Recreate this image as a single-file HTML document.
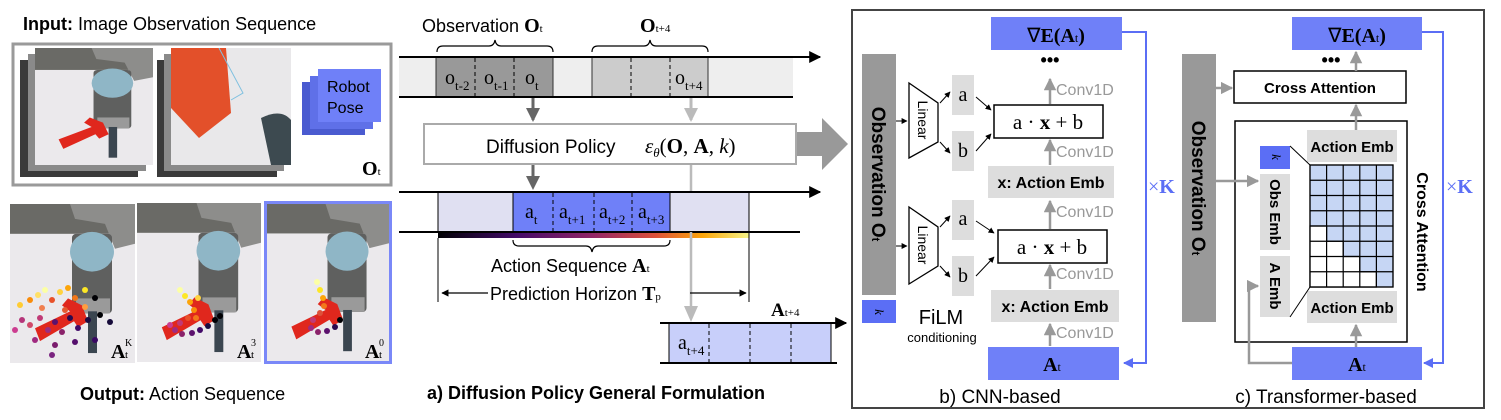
<!DOCTYPE html>
<html><head><meta charset="utf-8"><style>
html,body{margin:0;padding:0;background:#fff;}
svg{display:block;}
.s{font-family:"Liberation Sans",sans-serif;}
.r{font-family:"Liberation Serif",serif;}
</style></head><body>
<svg width="1501" height="420" viewBox="0 0 1501 420" xmlns="http://www.w3.org/2000/svg">
<defs>
<marker id="ab" viewBox="0 0 10 10" refX="9" refY="5" markerWidth="6" markerHeight="6" orient="auto"><path d="M0,0L10,5L0,10z" fill="#000"/></marker>
<marker id="ag" viewBox="0 0 10 10" refX="9" refY="5" markerWidth="5" markerHeight="5" orient="auto"><path d="M0,0L10,5L0,10z" fill="#999"/></marker>
<marker id="abl" viewBox="0 0 10 10" refX="9" refY="5" markerWidth="5" markerHeight="5" orient="auto"><path d="M0,0L10,5L0,10z" fill="#5b6ef5"/></marker>
<linearGradient id="inf" x1="0" x2="1"><stop offset="0" stop-color="#000004"/><stop offset="0.25" stop-color="#420a68"/><stop offset="0.5" stop-color="#932667"/><stop offset="0.7" stop-color="#dd513a"/><stop offset="0.85" stop-color="#fca50a"/><stop offset="1" stop-color="#f6f58a"/></linearGradient>
<symbol id="scene" viewBox="0 0 125 160" preserveAspectRatio="none">
<rect width="125" height="160" fill="#ebe9ec"/>
<rect width="125" height="30" fill="#6a6a66"/>
<path d="M60,0 L125,0 L125,40 L105,45 L95,20 L65,15z" fill="#8d8d8b"/>
<rect x="62" y="30" width="40" height="80" rx="4" fill="#5f605f"/>
<ellipse cx="82" cy="48" rx="22" ry="20" fill="#8fb6c6"/>
<rect x="66" y="95" width="34" height="15" fill="#9a9a9a"/>
<rect x="78" y="108" width="9" height="42" fill="#3b4650"/>
<path d="M25,125 L60,108 L52,102 L58,95 L72,102 L78,118 L68,124 L64,118 L30,138z" fill="#e0271d"/>
</symbol>
<symbol id="push" viewBox="0 0 120 117" preserveAspectRatio="none">
<rect width="120" height="117" fill="#e9e8ea"/>
<path d="M0,0 L55,0 L60,65 L28,90 L0,60z" fill="#e3502a"/>
<path d="M48,0 L72,45 L60,52" fill="none" stroke="#7fc0e0" stroke-width="1"/>
<path d="M90,70 Q110,60 120,72 L120,117 L100,117z" fill="#3d4a50"/>
</symbol>
</defs>

<!-- LEFT -->
<text x="23" y="30" class="s" font-size="18"><tspan font-weight="bold">Input:</tspan> Image Observation Sequence</text>
<rect x="13" y="44" width="378" height="141" fill="#fff" stroke="#9a9a9a" stroke-width="3"/>
<rect x="20" y="60" width="118" height="117" fill="#3a3a3a"/>
<rect x="28" y="54" width="118" height="117" fill="#8a8a8a"/>
<use href="#scene" x="35" y="48" width="118" height="117"/>
<rect x="157" y="60" width="120" height="117" fill="#3a3a3a"/>
<rect x="164" y="54" width="120" height="117" fill="#8a8a8a"/>
<use href="#push" x="171" y="48" width="120" height="117"/>
<rect x="302" y="82" width="63" height="53" fill="#4a5bd0"/>
<rect x="310" y="76" width="63" height="53" fill="#5f70e8"/>
<rect x="318" y="69" width="63" height="53" fill="#6f80f8"/>
<text x="327" y="92" class="s" font-size="16" font-weight="500">Robot</text>
<text x="327" y="113" class="s" font-size="16">Pose</text>
<text x="362" y="175" class="r" font-size="20" font-weight="bold">O<tspan font-size="11" font-weight="normal">t</tspan></text>

<use href="#scene" x="10" y="204" width="125" height="159"/>
<use href="#scene" x="137" y="203" width="124" height="159"/>
<rect x="264" y="201" width="128" height="163" fill="#7a88f8"/>
<use href="#scene" x="267" y="204" width="122" height="157"/>
<g>
<circle cx="20" cy="305" r="3" fill="#ffcc33"/><circle cx="30" cy="300" r="3" fill="#f98c0a"/><circle cx="38" cy="295" r="3" fill="#ffe066"/><circle cx="45" cy="290" r="3" fill="#fcffa4"/><circle cx="52" cy="300" r="3" fill="#e8512a"/><circle cx="60" cy="292" r="3" fill="#ffd23f"/><circle cx="68" cy="288" r="3" fill="#fca50a"/><circle cx="75" cy="298" r="3" fill="#f3771a"/><circle cx="85" cy="290" r="3" fill="#fde725"/><circle cx="95" cy="298" r="3" fill="#000004"/><circle cx="22" cy="320" r="3" fill="#b5367a"/><circle cx="30" cy="325" r="3" fill="#d14a6a"/><circle cx="40" cy="318" r="3" fill="#c03a76"/><circle cx="48" cy="330" r="3" fill="#9c2e7f"/><circle cx="55" cy="322" r="3" fill="#5c126e"/><circle cx="62" cy="332" r="3" fill="#8a226a"/><circle cx="70" cy="318" r="3" fill="#2a0a4e"/><circle cx="78" cy="328" r="3" fill="#420a68"/><circle cx="88" cy="320" r="3" fill="#1b0c41"/><circle cx="100" cy="315" r="3" fill="#000004"/><circle cx="110" cy="322" r="3" fill="#160b39"/><circle cx="35" cy="340" r="3" fill="#a02a80"/><circle cx="55" cy="345" r="3" fill="#7a1c6d"/><circle cx="75" cy="342" r="3" fill="#550f6d"/><circle cx="95" cy="340" r="3" fill="#3a0963"/><circle cx="65" cy="310" r="3" fill="#e45a31"/><circle cx="42" cy="308" r="3" fill="#f07f4f"/><circle cx="15" cy="330" r="3" fill="#cc3d90"/><circle cx="52" cy="355" r="3" fill="#7a2480"/><circle cx="85" cy="307" r="3" fill="#ff9d3f"/>
<circle cx="180" cy="290" r="3" fill="#fcffa4"/><circle cx="185" cy="296" r="3" fill="#fde725"/><circle cx="190" cy="302" r="3" fill="#fca50a"/><circle cx="194" cy="310" r="3" fill="#f98c0a"/><circle cx="188" cy="318" r="3" fill="#e8512a"/><circle cx="180" cy="323" r="3" fill="#c03a76"/><circle cx="175" cy="330" r="3" fill="#a02a80"/><circle cx="182" cy="334" r="3" fill="#8a226a"/><circle cx="192" cy="333" r="3" fill="#5c126e"/><circle cx="200" cy="330" r="3" fill="#420a68"/><circle cx="208" cy="326" r="3" fill="#1b0c41"/><circle cx="215" cy="320" r="3" fill="#000004"/><circle cx="198" cy="298" r="3" fill="#ffd23f"/><circle cx="170" cy="325" r="3" fill="#cc3d90"/><circle cx="196" cy="318" r="3" fill="#f3771a"/><circle cx="220" cy="316" r="3" fill="#000004"/>
<circle cx="317" cy="282" r="3" fill="#fcffa4"/><circle cx="320" cy="290" r="3" fill="#fde725"/><circle cx="323" cy="298" r="3" fill="#fca50a"/><circle cx="324" cy="306" r="3" fill="#f3771a"/><circle cx="320" cy="313" r="3" fill="#dd513a"/><circle cx="313" cy="320" r="3" fill="#c03a76"/><circle cx="311" cy="328" r="3" fill="#a02a80"/><circle cx="318" cy="332" r="3" fill="#8a226a"/><circle cx="327" cy="331" r="3" fill="#5c126e"/><circle cx="335" cy="327" r="3" fill="#2a0a4e"/><circle cx="340" cy="320" r="3" fill="#000004"/>
</g>
<text x="111" y="358" class="r" font-size="20" font-weight="bold">A</text><text x="125" y="358" class="r" font-size="11">t</text><text x="125" y="346" class="r" font-size="10">K</text>
<text x="237" y="358" class="r" font-size="20" font-weight="bold">A</text><text x="251" y="358" class="r" font-size="11">t</text><text x="251" y="346" class="r" font-size="10">3</text>
<text x="365" y="358" class="r" font-size="20" font-weight="bold">A</text><text x="379" y="358" class="r" font-size="11">t</text><text x="379" y="346" class="r" font-size="10">0</text>
<text x="80" y="400" class="s" font-size="18"><tspan font-weight="bold">Output:</tspan>  Action Sequence</text>

<!-- MIDDLE -->
<text x="422" y="32" class="s" font-size="18">Observation <tspan class="r" font-weight="bold" font-size="20">O</tspan><tspan class="r" font-size="11">t</tspan></text>
<path d="M437,52 Q437,46 443,46 L489,46 Q494,46 495,40 Q496,46 501,46 L547,46 Q553,46 553,52" fill="none" stroke="#000" stroke-width="1.2"/>
<text x="640" y="32" class="r" font-size="20" font-weight="bold">O<tspan font-size="11" font-weight="normal">t+4</tspan></text>
<path d="M592,52 Q592,46 598,46 L644,46 Q649,46 650,40 Q651,46 656,46 L702,46 Q708,46 708,52" fill="none" stroke="#000" stroke-width="1.2"/>
<rect x="399" y="57" width="394" height="40" fill="#eeeeee"/>
<rect x="436" y="57" width="117" height="40" fill="#999" stroke="#333" stroke-width="1"/>
<rect x="592" y="57" width="116" height="40" fill="#ccc" stroke="#333" stroke-width="1"/>
<g stroke="#000" stroke-dasharray="4,3"><line x1="475" y1="58" x2="475" y2="96"/><line x1="514" y1="58" x2="514" y2="96"/><line x1="631" y1="58" x2="631" y2="96"/><line x1="670" y1="58" x2="670" y2="96"/></g>
<line x1="399" y1="57" x2="820" y2="57" stroke="#000" stroke-width="2" marker-end="url(#ab)"/>
<line x1="399" y1="97" x2="793" y2="97" stroke="#000" stroke-width="2"/>
<g class="r" font-size="20"><text x="445" y="84">o<tspan font-size="13" dy="6">t-2</tspan></text><text x="484" y="84">o<tspan font-size="13" dy="6">t-1</tspan></text><text x="525" y="84">o<tspan font-size="13" dy="6">t</tspan></text><text x="675" y="84">o<tspan font-size="13" dy="6">t+4</tspan></text></g>
<line x1="533" y1="98" x2="533" y2="120" stroke="#666" stroke-width="3"/><path d="M526,108 L540,108 L533,122z" fill="#666"/>
<line x1="691" y1="98" x2="691" y2="120" stroke="#bbb" stroke-width="3"/><path d="M684,108 L698,108 L691,122z" fill="#bbb"/>
<rect x="424" y="124" width="372" height="40" fill="#fff" stroke="#aaa" stroke-width="2"/>
<path d="M797,132 L822,132 L822,118 L848,144 L822,170 L822,156 L797,156z" fill="#999"/>
<text x="486" y="153" class="s" font-size="19">Diffusion Policy</text>
<text x="645" y="153" class="r" font-size="21"><tspan font-style="italic">ε</tspan><tspan font-style="italic" font-size="13" dy="4">θ</tspan><tspan dy="-4">(</tspan><tspan font-weight="bold">O</tspan>, <tspan font-weight="bold">A</tspan>, <tspan font-style="italic">k</tspan>)</text>
<line x1="533" y1="165" x2="533" y2="186" stroke="#666" stroke-width="3"/><path d="M526,176 L540,176 L533,190z" fill="#666"/>
<line x1="691" y1="165" x2="691" y2="316" stroke="#bbb" stroke-width="2.5"/><path d="M684,306 L698,306 L691,322z" fill="#bbb"/>
<rect x="438" y="192" width="311" height="40" fill="#e0e0f2" stroke="#000" stroke-width="1"/>
<rect x="513" y="192" width="157" height="40" fill="#6f80f8" stroke="#000" stroke-width="1"/>
<g stroke="#000" stroke-dasharray="4,3"><line x1="553" y1="193" x2="553" y2="231"/><line x1="594" y1="193" x2="594" y2="231"/><line x1="632" y1="193" x2="632" y2="231"/></g>
<line x1="399" y1="192" x2="820" y2="192" stroke="#000" stroke-width="2" marker-end="url(#ab)"/>
<line x1="399" y1="232" x2="800" y2="232" stroke="#000" stroke-width="2"/>
<rect x="438" y="233" width="311" height="5" fill="url(#inf)"/>
<line x1="691" y1="232" x2="691" y2="240" stroke="#bbb" stroke-width="2.5"/>
<g class="r" font-size="20"><text x="525" y="218">a<tspan font-size="13" dy="6">t</tspan></text><text x="559" y="218">a<tspan font-size="13" dy="6">t+1</tspan></text><text x="599" y="218">a<tspan font-size="13" dy="6">t+2</tspan></text><text x="638" y="218">a<tspan font-size="13" dy="6">t+3</tspan></text></g>
<line x1="438" y1="238" x2="438" y2="302" stroke="#000"/><line x1="749" y1="232" x2="749" y2="302" stroke="#000"/>
<path d="M513,240 Q513,246 519,246 L586,246 Q591,246 592,252 Q593,246 598,246 L664,246 Q670,246 670,240" fill="none" stroke="#000" stroke-width="1.2"/>
<text x="491" y="272" class="s" font-size="18">Action Sequence <tspan class="r" font-weight="bold" font-size="20">A</tspan><tspan class="r" font-size="11">t</tspan></text>
<line x1="488" y1="293" x2="442" y2="293" stroke="#000" stroke-width="1.2" marker-end="url(#ab)"/>
<line x1="690" y1="293" x2="746" y2="293" stroke="#000" stroke-width="1.2" marker-end="url(#ab)"/>
<text x="490" y="300" class="s" font-size="18">Prediction Horizon <tspan class="r" font-weight="bold" font-size="20">T</tspan><tspan class="r" font-size="11">p</tspan></text>
<text x="771" y="316" class="r" font-size="19" font-weight="bold">A<tspan font-size="11" font-weight="normal">t+4</tspan></text>
<rect x="669" y="323" width="162" height="40" fill="#c8cffa" stroke="#000" stroke-width="1"/>
<g stroke="#000" stroke-dasharray="4,3"><line x1="709" y1="324" x2="709" y2="362"/><line x1="750" y1="324" x2="750" y2="362"/><line x1="791" y1="324" x2="791" y2="362"/></g>
<line x1="660" y1="323" x2="846" y2="323" stroke="#000" stroke-width="2" marker-end="url(#ab)"/>
<line x1="660" y1="363" x2="837" y2="363" stroke="#000" stroke-width="2"/>
<text x="678" y="349" class="r" font-size="20">a<tspan font-size="13" dy="6">t+4</tspan></text>
<text x="427" y="399" class="s" font-size="18" font-weight="bold">a) Diffusion Policy General Formulation</text>

<!-- RIGHT -->
<rect x="852" y="10" width="632" height="398" fill="#fff" stroke="#444" stroke-width="2"/>
<!-- CNN -->
<rect x="991" y="17" width="131" height="33" fill="#6f80f8"/>
<text x="1056" y="42" class="r" font-size="20" font-weight="bold" text-anchor="middle"><tspan font-weight="normal">∇</tspan>E(A<tspan font-size="12" font-weight="normal">t</tspan>)</text>
<polyline points="1122,32 1146,32 1146,363 1124,363" fill="none" stroke="#5b6ef5" stroke-width="2" marker-end="url(#abl)"/>
<text x="1148" y="193" class="r" font-size="20" fill="#5b6ef5" font-weight="bold"><tspan font-weight="normal">×</tspan>K</text>
<rect x="862" y="54" width="34" height="241" fill="#999"/>
<text transform="translate(872,174) rotate(90)" class="s" font-size="19" font-weight="bold" text-anchor="middle">Observation O<tspan font-size="11">t</tspan></text>
<rect x="862" y="300" width="34" height="23" fill="#5b6ef5"/>
<text transform="translate(875,312) rotate(90)" class="r" font-size="13" font-style="italic" text-anchor="middle">k</text>
<g>
<path d="M909,83 L938,103 L938,142 L909,158z" fill="#fff" stroke="#000" stroke-width="1.3"/>
<text transform="translate(918,120) rotate(90)" class="s" font-size="14" text-anchor="middle">Linear</text>
<line x1="896" y1="121" x2="907" y2="121" stroke="#000" marker-end="url(#ab)"/>
<rect x="952" y="75" width="22" height="40" fill="#ddd"/><rect x="952" y="131" width="22" height="40" fill="#ddd"/>
<text x="963" y="101" class="r" font-size="20" text-anchor="middle">a</text><text x="963" y="157" class="r" font-size="20" text-anchor="middle">b</text>
<line x1="940" y1="103" x2="950" y2="92" stroke="#000" marker-end="url(#ab)"/><line x1="940" y1="142" x2="950" y2="153" stroke="#000" marker-end="url(#ab)"/>
<line x1="976" y1="97" x2="991" y2="110" stroke="#000" marker-end="url(#ab)"/><line x1="976" y1="151" x2="991" y2="134" stroke="#000" marker-end="url(#ab)"/>
<rect x="994" y="105" width="109" height="33" fill="#fff" stroke="#000" stroke-width="1.5"/>
<text x="1048" y="129" class="r" font-size="21" text-anchor="middle">a · <tspan font-weight="bold">x</tspan> + b</text>
</g>
<g>
<path d="M909,207 L938,227 L938,266 L909,284z" fill="#fff" stroke="#000" stroke-width="1.3"/>
<text transform="translate(918,245) rotate(90)" class="s" font-size="14" text-anchor="middle">Linear</text>
<line x1="896" y1="246" x2="907" y2="246" stroke="#000" marker-end="url(#ab)"/>
<rect x="952" y="200" width="22" height="40" fill="#ddd"/><rect x="952" y="256" width="22" height="40" fill="#ddd"/>
<text x="963" y="225" class="r" font-size="20" text-anchor="middle">a</text><text x="963" y="282" class="r" font-size="20" text-anchor="middle">b</text>
<line x1="940" y1="227" x2="950" y2="216" stroke="#000" marker-end="url(#ab)"/><line x1="940" y1="266" x2="950" y2="277" stroke="#000" marker-end="url(#ab)"/>
<line x1="976" y1="221" x2="994" y2="233" stroke="#000" marker-end="url(#ab)"/><line x1="976" y1="276" x2="994" y2="257" stroke="#000" marker-end="url(#ab)"/>
<rect x="998" y="230" width="109" height="33" fill="#fff" stroke="#000" stroke-width="1.5"/>
<text x="1052" y="254" class="r" font-size="21" text-anchor="middle">a · <tspan font-weight="bold">x</tspan> + b</text>
</g>
<rect x="988" y="166" width="126" height="32" fill="#ddd"/>
<text x="1051" y="188" class="s" font-size="16" font-weight="bold" text-anchor="middle">x: Action Emb</text>
<rect x="991" y="290" width="128" height="32" fill="#ddd"/>
<text x="1055" y="312" class="s" font-size="16" font-weight="bold" text-anchor="middle">x: Action Emb</text>
<rect x="988" y="347" width="131" height="33" fill="#6f80f8"/>
<text x="1052" y="371" class="r" font-size="20" font-weight="bold" text-anchor="middle">A<tspan font-size="12" font-weight="normal">t</tspan></text>
<g stroke="#999" stroke-width="2.5" fill="none" marker-end="url(#ag)">
<line x1="1050" y1="104" x2="1050" y2="79"/><line x1="1050" y1="165" x2="1050" y2="140"/><line x1="1050" y1="229" x2="1050" y2="201"/><line x1="1050" y1="289" x2="1050" y2="265"/><line x1="1050" y1="346" x2="1050" y2="324"/>
</g>
<g class="s" font-size="16" fill="#999"><text x="1056" y="95">Conv1D</text><text x="1056" y="157">Conv1D</text><text x="1056" y="217">Conv1D</text><text x="1056" y="279">Conv1D</text><text x="1056" y="338">Conv1D</text></g>
<text x="1050" y="66" class="s" font-size="18" font-weight="bold" text-anchor="middle">•••</text>
<text x="941" y="324" class="s" font-size="20" text-anchor="middle">FiLM</text>
<text x="942" y="342" class="s" font-size="13" text-anchor="middle">conditioning</text>
<text x="1000" y="403" class="s" font-size="19" text-anchor="middle">b) CNN-based</text>

<!-- Transformer -->
<rect x="1292" y="17" width="130" height="33" fill="#6f80f8"/>
<text x="1357" y="42" class="r" font-size="20" font-weight="bold" text-anchor="middle"><tspan font-weight="normal">∇</tspan>E(A<tspan font-size="12" font-weight="normal">t</tspan>)</text>
<polyline points="1422,32 1443,32 1443,363 1424,363" fill="none" stroke="#5b6ef5" stroke-width="2" marker-end="url(#abl)"/>
<text x="1446" y="193" class="r" font-size="20" fill="#5b6ef5" font-weight="bold"><tspan font-weight="normal">×</tspan>K</text>
<rect x="1182" y="54" width="34" height="268" fill="#999"/>
<text transform="translate(1192,188) rotate(90)" class="s" font-size="19" font-weight="bold" text-anchor="middle">Observation O<tspan font-size="11">t</tspan></text>
<rect x="1234" y="71" width="172" height="32" fill="#fff" stroke="#000" stroke-width="1.5"/>
<text x="1320" y="93" class="s" font-size="15" font-weight="bold" text-anchor="middle">Cross Attention</text>
<rect x="1235" y="121" width="172" height="221" fill="#fff" stroke="#000" stroke-width="1.5"/>
<rect x="1307" y="130" width="90" height="32" fill="#ddd"/>
<text x="1352" y="152" class="s" font-size="15" font-weight="bold" text-anchor="middle">Action Emb</text>
<rect x="1307" y="291" width="90" height="32" fill="#ddd"/>
<text x="1352" y="313" class="s" font-size="15" font-weight="bold" text-anchor="middle">Action Emb</text>
<rect x="1260" y="146" width="30" height="23" fill="#5b6ef5"/>
<text transform="translate(1272,157) rotate(90)" class="r" font-size="13" font-style="italic" text-anchor="middle">k</text>
<rect x="1260" y="174" width="30" height="76" fill="#ddd"/>
<text transform="translate(1270,212) rotate(90)" class="s" font-size="15" font-weight="bold" text-anchor="middle">Obs Emb</text>
<rect x="1260" y="256" width="30" height="61" fill="#ddd"/>
<text transform="translate(1270,286) rotate(90)" class="s" font-size="15" font-weight="bold" text-anchor="middle">A Emb</text>
<line x1="1290" y1="146" x2="1310" y2="165" stroke="#000"/><line x1="1290" y1="317" x2="1310" y2="287" stroke="#000"/>
<g stroke="#000" stroke-width="1.2">
<rect x="1310" y="165" width="83" height="122" fill="#c6d6f4"/>
<path d="M1310,226 h16.6 v15.25 h16.6 v15.25 h16.6 v15.25 h16.6 v15.25 h-66.4z" fill="#fff"/>
<path d="M1326.6,165v122M1343.2,165v122M1359.8,165v122M1376.4,165v122M1310,180.25h83M1310,195.5h83M1310,210.75h83M1310,226h83M1310,241.25h83M1310,256.5h83M1310,271.75h83" fill="none"/>
<rect x="1310" y="165" width="83" height="122" fill="none"/>
</g>
<text transform="translate(1417,232) rotate(90)" class="s" font-size="16" font-weight="bold" text-anchor="middle">Cross Attention</text>
<rect x="1292" y="347" width="130" height="33" fill="#6f80f8"/>
<text x="1357" y="371" class="r" font-size="20" font-weight="bold" text-anchor="middle">A<tspan font-size="12" font-weight="normal">t</tspan></text>
<g stroke="#999" stroke-width="2.5" fill="none" marker-end="url(#ag)">
<line x1="1216" y1="88" x2="1232" y2="88"/><line x1="1216" y1="181" x2="1258" y2="181"/>
<polyline points="1292,363 1249,363 1249,286 1258,286"/>
<line x1="1356" y1="347" x2="1356" y2="325"/><line x1="1356" y1="130" x2="1356" y2="105"/><line x1="1356" y1="71" x2="1356" y2="52"/>
</g>
<text x="1331" y="66" class="s" font-size="18" font-weight="bold" text-anchor="middle">•••</text>
<text x="1326" y="403" class="s" font-size="19" text-anchor="middle">c) Transformer-based</text>
</svg>
</body></html>
